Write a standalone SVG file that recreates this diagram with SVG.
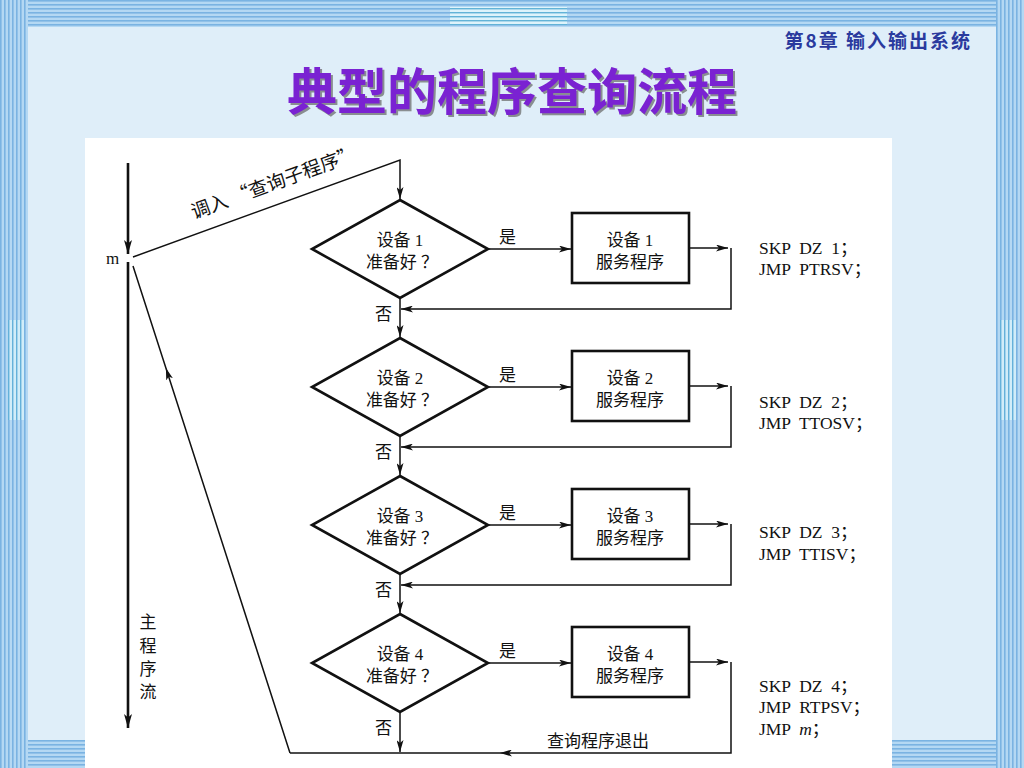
<svg xmlns="http://www.w3.org/2000/svg" width="1024" height="768" viewBox="0 0 1024 768">
<defs>
<pattern id="vstripe" width="4" height="10" patternUnits="userSpaceOnUse">
<rect width="4" height="10" fill="#b4d8f3"/>
<rect x="0" width="1.6" height="10" fill="#7ab3e2"/>
</pattern>
<pattern id="hstripe" width="10" height="4" patternUnits="userSpaceOnUse">
<rect width="10" height="4" fill="#b4d8f3"/>
<rect y="0" width="10" height="1.6" fill="#7ab3e2"/>
</pattern>
<pattern id="vhi" width="4" height="10" patternUnits="userSpaceOnUse">
<rect width="4" height="10" fill="#d8f2fb"/>
<rect x="0" width="1.4" height="10" fill="#5fb0d8"/>
</pattern>
<pattern id="hhi" width="10" height="4" patternUnits="userSpaceOnUse">
<rect width="10" height="4" fill="#e2f6fc"/>
<rect y="0" width="10" height="1.4" fill="#5fb3d6"/>
</pattern>
<marker id="arr" viewBox="0 0 12 7" refX="12" refY="3.5" markerWidth="12" markerHeight="7" markerUnits="userSpaceOnUse" orient="auto">
<path d="M0,0 L12,3.5 L0,7 L3,3.5 z" fill="#111"/>
</marker>
<marker id="arrB" viewBox="0 0 14 8" refX="14" refY="4" markerWidth="14" markerHeight="8" markerUnits="userSpaceOnUse" orient="auto">
<path d="M0,0 L14,4 L0,8 L3.5,4 z" fill="#111"/>
</marker>
</defs>
<style>
.shape{fill:#fff;stroke:#111;stroke-width:2.6}
.cn{fill:none;stroke:#111;stroke-width:1.5}
.thick{fill:none;stroke:#111;stroke-width:2.6}
.t{font-family:"Liberation Serif","Noto Sans CJK SC",serif;font-size:17px;fill:#111}
.c{text-anchor:middle}
.code{font-family:"Liberation Serif","Noto Sans CJK SC",serif;font-size:17.5px;fill:#111;white-space:pre}
</style>
<!-- background -->
<rect width="1024" height="768" fill="#dfeef9"/>
<rect x="0" y="0" width="28" height="768" fill="url(#vstripe)"/>
<rect x="996" y="0" width="28" height="768" fill="url(#vstripe)"/>
<rect x="28" y="0" width="968" height="27" fill="url(#hstripe)"/>
<rect x="28" y="740" width="968" height="28" fill="url(#hstripe)"/>
<rect x="450" y="7" width="117" height="18" fill="url(#hhi)" opacity="0.9"/>
<rect x="8" y="320" width="16" height="100" fill="url(#vhi)" opacity="0.8"/>
<rect x="1000" y="320" width="16" height="100" fill="url(#vhi)" opacity="0.8"/>
<!-- header -->
<text x="972" y="48" text-anchor="end" font-family="Noto Sans CJK SC,sans-serif" font-weight="bold" font-size="19" letter-spacing="2" fill="#2a3a9e">第8章 输入输出系统</text>
<text x="514" y="112" text-anchor="middle" font-family="Noto Sans CJK SC,sans-serif" font-weight="bold" font-size="50" fill="#666" opacity="0.7">典型的程序查询流程</text>
<text x="512" y="110" text-anchor="middle" font-family="Noto Sans CJK SC,sans-serif" font-weight="bold" font-size="50" fill="#7a22d2">典型的程序查询流程</text>
<!-- panel -->
<rect x="85" y="138" width="807" height="630" fill="#fff"/>
<!-- connectors -->
<g id="connectors">
<path class="thick" d="M128,163 L128,254" marker-end="url(#arrB)"/>
<path class="thick" d="M128,262 L128,728" marker-end="url(#arrB)"/>
<path class="cn" d="M133,257 L400,160 L400,199" marker-end="url(#arr)"/>
<path class="cn" d="M290,753 L165.9,368 L133,266" marker-mid="url(#arr)"/>
<!-- stems -->
<path class="cn" d="M400,298 L400,337" marker-end="url(#arr)"/>
<path class="cn" d="M400,436 L400,475" marker-end="url(#arr)"/>
<path class="cn" d="M400,574 L400,613" marker-end="url(#arr)"/>
<path class="cn" d="M400,712 L400,752" marker-end="url(#arr)"/>
<!-- yes arrows -->
<path class="cn" d="M488,249 L571,249" marker-end="url(#arr)"/>
<path class="cn" d="M488,387 L571,387" marker-end="url(#arr)"/>
<path class="cn" d="M488,525 L571,525" marker-end="url(#arr)"/>
<path class="cn" d="M488,663 L571,663" marker-end="url(#arr)"/>
<!-- service outputs and returns -->
<path class="cn" d="M689,248 L728,248" marker-end="url(#arr)"/>
<path class="cn" d="M731,248 L731,309 L401,309" marker-end="url(#arr)"/>
<path class="cn" d="M689,386 L728,386" marker-end="url(#arr)"/>
<path class="cn" d="M731,386 L731,447 L401,447" marker-end="url(#arr)"/>
<path class="cn" d="M689,524 L728,524" marker-end="url(#arr)"/>
<path class="cn" d="M731,524 L731,585 L401,585" marker-end="url(#arr)"/>
<path class="cn" d="M689,662 L728,662" marker-end="url(#arr)"/>
<path class="cn" d="M731,662 L731,753 L500,753" marker-end="url(#arr)"/>
<path class="cn" d="M500,753 L290,753"/>
</g>
<!-- connector labels -->
<text x="194" y="219" font-family="Noto Sans CJK SC,sans-serif" font-size="19" fill="#111" transform="rotate(-20 194 219)">调入 “查询子程序”</text>
<text class="t" x="106" y="264" font-size="18">m</text>
<text class="t c" x="148" y="628" font-size="18">主</text>
<text class="t c" x="148" y="652" font-size="18">程</text>
<text class="t c" x="148" y="675" font-size="18">序</text>
<text class="t c" x="148" y="698" font-size="18">流</text>
<text class="t" x="499" y="243">是</text>
<text class="t" x="499" y="381">是</text>
<text class="t" x="499" y="519">是</text>
<text class="t" x="499" y="657">是</text>
<text class="t" x="375" y="320">否</text>
<text class="t" x="375" y="458">否</text>
<text class="t" x="375" y="596">否</text>
<text class="t" x="375" y="734">否</text>
<text class="t c" x="598" y="747">查询程序退出</text>
<!-- nodes -->
<g id="dev1-check">
<polygon class="shape" points="400,200 488,249 400,298 312,249"/>
<text class="t c" x="400" y="246">设备 1</text>
<text class="t c" x="402" y="268">准备好 ？</text>
</g>
<g id="dev1-service">
<rect class="shape" x="572" y="213" width="117" height="70"/>
<text class="t c" x="630" y="246">设备 1</text>
<text class="t c" x="630" y="268">服务程序</text>
</g>
<g id="dev2-check">
<polygon class="shape" points="400,338 488,387 400,436 312,387"/>
<text class="t c" x="400" y="384">设备 2</text>
<text class="t c" x="402" y="406">准备好 ？</text>
</g>
<g id="dev2-service">
<rect class="shape" x="572" y="351" width="117" height="70"/>
<text class="t c" x="630" y="384">设备 2</text>
<text class="t c" x="630" y="406">服务程序</text>
</g>
<g id="dev3-check">
<polygon class="shape" points="400,476 488,525 400,574 312,525"/>
<text class="t c" x="400" y="522">设备 3</text>
<text class="t c" x="402" y="544">准备好 ？</text>
</g>
<g id="dev3-service">
<rect class="shape" x="572" y="489" width="117" height="70"/>
<text class="t c" x="630" y="522">设备 3</text>
<text class="t c" x="630" y="544">服务程序</text>
</g>
<g id="dev4-check">
<polygon class="shape" points="400,614 488,663 400,712 312,663"/>
<text class="t c" x="400" y="660">设备 4</text>
<text class="t c" x="402" y="682">准备好 ？</text>
</g>
<g id="dev4-service">
<rect class="shape" x="572" y="627" width="117" height="70"/>
<text class="t c" x="630" y="660">设备 4</text>
<text class="t c" x="630" y="682">服务程序</text>
</g>
<!-- code notes -->
<g id="code1">
<text class="code" x="759" y="254">SKP  DZ  1；</text>
<text class="code" x="759" y="275">JMP  PTRSV；</text>
</g>
<g id="code2">
<text class="code" x="759" y="408">SKP  DZ  2；</text>
<text class="code" x="759" y="429">JMP  TTOSV；</text>
</g>
<g id="code3">
<text class="code" x="759" y="538">SKP  DZ  3；</text>
<text class="code" x="759" y="560">JMP  TTISV；</text>
</g>
<g id="code4">
<text class="code" x="759" y="692">SKP  DZ  4；</text>
<text class="code" x="759" y="713">JMP  RTPSV；</text>
<text class="code" x="759" y="735">JMP  <tspan font-style="italic">m</tspan>；</text>
</g>
</svg>
